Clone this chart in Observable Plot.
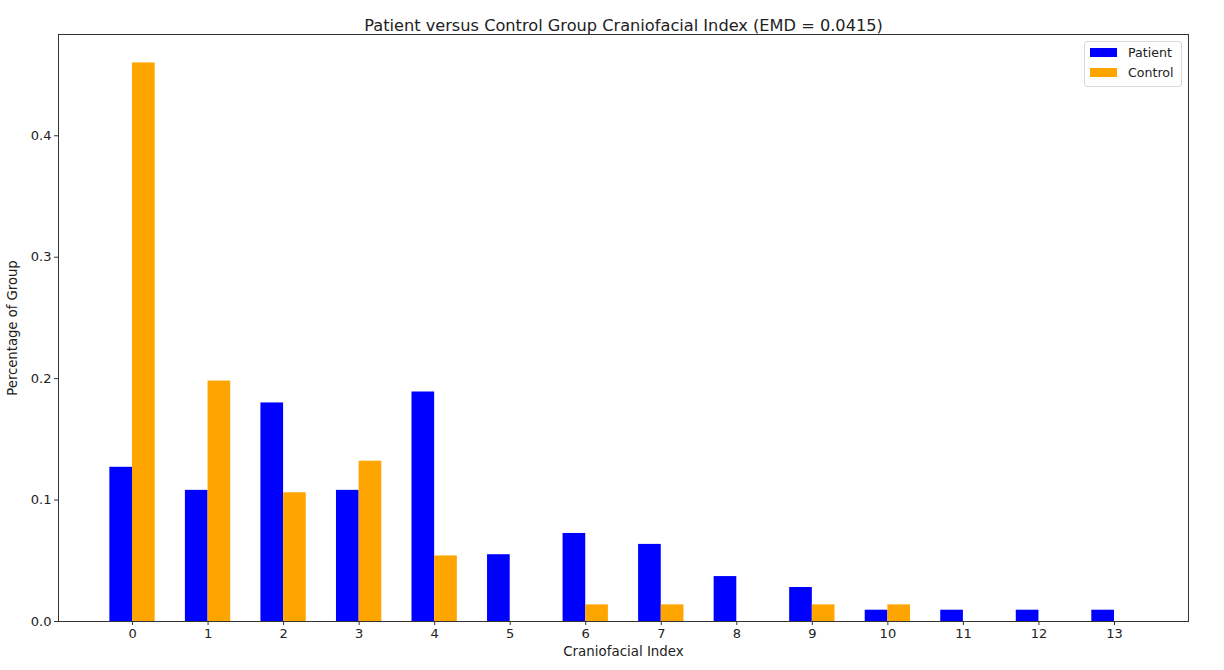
<!DOCTYPE html>
<html>
<head>
<meta charset="utf-8">
<script src="https://cdn.jsdelivr.net/npm/d3@7"></script>
<script src="https://cdn.jsdelivr.net/npm/@observablehq/plot@0.6"></script>
<style>
  html, body { margin: 0; padding: 0; background: #fff; }
  #wrap { position: relative; width: 1224px; height: 670px; font-family: "DejaVu Sans", sans-serif; }
  #legend { position: absolute; left: 1084px; top: 41px; width: 96px; height: 44px; border: 1px solid #d9d9d9; border-radius: 3px; background: rgba(255,255,255,0.8); font-size: 12.6px; color: #222; }
  .row { position: absolute; left: 5px; display: flex; align-items: center; }
  .sw { width: 27px; height: 9px; margin-right: 11px; }
</style>
</head>
<body>
<div id="wrap"></div>
<script>
const categories = [0, 1, 2, 3, 4, 5, 6, 7, 8, 9, 10, 11, 12, 13];
const patient = [0.127, 0.108, 0.180, 0.108, 0.189, 0.055, 0.0725, 0.0635, 0.037, 0.028, 0.0093, 0.0093, 0.0093, 0.0093];
const control = [0.460, 0.198, 0.106, 0.132, 0.054, 0, 0.0137, 0.0137, 0, 0.0137, 0.0137, 0, 0, 0];
const groups = ["Patient", "Control"];
const colors = ["blue", "orange"];
const yTicks = [0, 0.1, 0.2, 0.3, 0.4];

const barWidth = 0.3;
const rows = [];
categories.forEach((c, i) => {
  rows.push({idx: c, group: groups[0], value: patient[i], x1: c - barWidth, x2: c});
  rows.push({idx: c, group: groups[1], value: control[i], x1: c, x2: c + barWidth});
});

const font = "DejaVu Sans";
const chart = Plot.plot({
  width: 1224,
  height: 670,
  marginLeft: 58,
  marginRight: 36,
  marginTop: 34,
  marginBottom: 49,
  style: {fontFamily: font, fontSize: "13px", color: "#222", background: "#fff"},
  x: {domain: [-0.98, 13.98]},
  y: {domain: [0, 0.4834]},
  color: {domain: groups, range: colors},
  marks: [
    Plot.rectY(rows, {x1: "x1", x2: "x2", y1: 0, y2: "value", fill: "group"}),
    Plot.frame({stroke: "#333", strokeWidth: 1}),
    Plot.axisX({ticks: categories, tickFormat: d => String(d), tickSize: 4, tickPadding: 3, label: null, stroke: "#333", fill: "#222", fontSize: 13}),
    Plot.axisY({ticks: yTicks, tickFormat: d3.format(".1f"), tickSize: 4, tickPadding: 3, label: null, stroke: "#333", fill: "#222", fontSize: 13}),
    Plot.text(["Patient versus Control Group Craniofacial Index (EMD = 0.0415)"], {frameAnchor: "top", dy: -15, fontSize: 16.2, fill: "#222"}),
    Plot.text(["Craniofacial Index"], {frameAnchor: "bottom", dy: 34, fontSize: 13.4, fill: "#222"}),
    Plot.text(["Percentage of Group"], {frameAnchor: "left", textAnchor: "middle", lineAnchor: "middle", rotate: -90, dx: -46, fontSize: 13.2, fill: "#222"})
  ]
});
const wrap = document.getElementById("wrap");
wrap.appendChild(chart);

const legend = document.createElement("div");
legend.id = "legend";
groups.forEach((g, i) => {
  const row = document.createElement("div");
  row.className = "row";
  row.style.top = (3 + i * 20) + "px";
  const sw = document.createElement("div");
  sw.className = "sw";
  sw.style.background = colors[i];
  const label = document.createElement("span");
  label.textContent = g;
  row.appendChild(sw);
  row.appendChild(label);
  legend.appendChild(row);
});
wrap.appendChild(legend);
</script>
</body>
</html>
